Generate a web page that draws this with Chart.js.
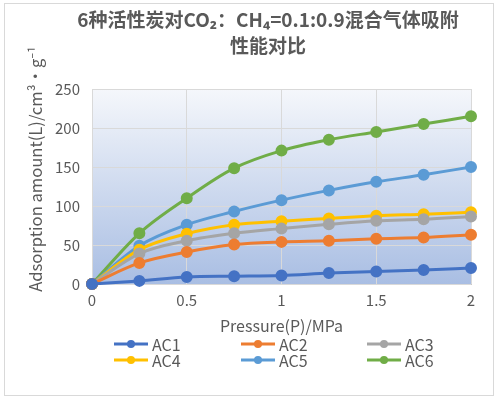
<!DOCTYPE html>
<html>
<head>
<meta charset="utf-8">
<script src="https://cdn.jsdelivr.net/npm/chart.js@4.4.0/dist/chart.umd.min.js"></script>
<style>
  html, body { margin: 0; padding: 0; background: #fff; }
  #wrap { width: 498px; height: 399px; }
</style>
</head>
<body>
<div id="wrap"><canvas id="chart" width="498" height="399"></canvas></div>
<script>
'use strict';

// values
const pressure = [0, 0.25, 0.5, 0.75, 1, 1.25, 1.5, 1.75, 2];
const seriesNames = ['AC1', 'AC2', 'AC3', 'AC4', 'AC5', 'AC6'];
const ac1 = [0, 4, 9, 10, 11, 14, 16, 18, 20.5];
const ac2 = [0, 27, 41, 50.5, 54, 55.5, 58, 59.5, 63];
const ac3 = [0, 39, 55.5, 65, 71, 76.5, 81, 83, 86.5];
const ac4 = [0, 44, 64.5, 76, 80.5, 84, 87.5, 89.5, 92];
const ac5 = [0, 49, 76, 93, 107.5, 120, 131, 140, 150];
const ac6 = [0, 65, 110, 148.5, 171, 185, 195, 205, 215];
const seriesColors = ['#4472C4', '#ED7D31', '#A5A5A5', '#FFC000', '#5B9BD5', '#70AD47'];

const titleLines = ['6种活性炭对CO₂：CH₄=0.1:0.9混合气体吸附', '性能对比'];
const xTitle = 'Pressure(P)/MPa';
const yTitle = 'Adsorption amount(L)/cm³•g⁻¹';

const textColor = '#595959';
const fontFamily = '"Noto Sans CJK SC", "Noto Sans", sans-serif';

const allSeries = [ac1, ac2, ac3, ac4, ac5, ac6];

const datasets = allSeries.map(function (values, i) {
    return {
        label: seriesNames[i],
        data: values.map(function (v, j) {
            return {x: pressure[j], y: v};
        }),
        borderColor: seriesColors[i],
        backgroundColor: seriesColors[i],
        borderWidth: 3,
        pointRadius: 4.5,
        pointHoverRadius: 4.5,
        cubicInterpolationMode: 'monotone',
        clip: false,
        fill: false
    };
});

// frame, plot background, titles and the grid legend
const decorPlugin = {
    id: 'decor',
    beforeDraw: function (chart) {
        const ctx = chart.ctx;
        const a = chart.chartArea;
        ctx.save();
        ctx.strokeStyle = '#d9d9d9';
        ctx.lineWidth = 1;
        ctx.strokeRect(4.5, 3.5, 489, 392);
        let grad = ctx.createLinearGradient(0, a.top, 0, a.bottom);
        grad.addColorStop(0, '#f5f7fb');
        grad.addColorStop(1, '#a9bee3');
        ctx.fillStyle = grad;
        ctx.fillRect(a.left, a.top, a.right - a.left, a.bottom - a.top);
        ctx.strokeStyle = '#c8c8c8';
        ctx.strokeRect(Math.round(a.left) + 0.5, Math.round(a.top) + 0.5,
            Math.round(a.right - a.left), Math.round(a.bottom - a.top));
        ctx.restore();
    },
    afterDraw: function (chart) {
        const ctx = chart.ctx;
        ctx.save();
        ctx.fillStyle = textColor;
        ctx.textAlign = 'center';
        ctx.textBaseline = 'middle';

        // chart title
        ctx.font = 'bold 19px ' + fontFamily;
        ctx.fillText(titleLines[0], 268, 20);
        ctx.fillText(titleLines[1], 268, 46);

        // y axis title
        ctx.font = '16.6px ' + fontFamily;
        ctx.translate(36, 169);
        ctx.rotate(-Math.PI / 2);
        ctx.fillText(yTitle, 0, 0);
        ctx.restore();

        // legend, 3 columns x 2 rows
        const colX = [114, 241, 367];
        const rowY = [344, 360];
        ctx.save();
        ctx.font = '16px ' + fontFamily;
        ctx.textAlign = 'left';
        ctx.textBaseline = 'middle';
        chart.data.datasets.forEach(function (ds, i) {
            let x = colX[i % 3];
            let y = rowY[Math.floor(i / 3)];
            ctx.strokeStyle = ds.borderColor;
            ctx.lineWidth = 3;
            ctx.beginPath();
            ctx.moveTo(x, y);
            ctx.lineTo(x + 34, y);
            ctx.stroke();
            ctx.fillStyle = ds.borderColor;
            ctx.beginPath();
            ctx.arc(x + 17, y, 4, 0, Math.PI * 2);
            ctx.fill();
            ctx.fillStyle = textColor;
            ctx.fillText(ds.label, x + 38, y + 1);
        });
        ctx.restore();
    }
};

new Chart(document.getElementById('chart'), {
    type: 'line',
    data: {datasets: datasets},
    plugins: [decorPlugin],
    options: {
        responsive: false,
        animation: false,
        layout: {padding: {left: 0, right: 27, top: 89, bottom: 0}},
        plugins: {
            legend: {display: false},
            tooltip: {enabled: false},
            title: {display: false}
        },
        scales: {
            x: {
                type: 'linear',
                min: 0,
                max: 2,
                ticks: {
                    stepSize: 0.5,
                    color: textColor,
                    padding: 7,
                    font: {family: fontFamily, size: 15},
                    callback: function (value) {
                        return String(value);
                    }
                },
                grid: {color: '#d9d9d9', drawTicks: false},
                border: {display: false},
                title: {
                    display: true,
                    text: xTitle,
                    color: textColor,
                    font: {family: fontFamily, size: 16, lineHeight: 1.2},
                    padding: {top: 0, bottom: 63}
                },
                afterFit: function (scale) {
                    scale.height = 115;
                }
            },
            y: {
                min: 0,
                max: 250,
                ticks: {
                    stepSize: 50,
                    color: textColor,
                    padding: 12,
                    font: {family: fontFamily, size: 15}
                },
                grid: {color: '#d9d9d9', drawTicks: false},
                border: {display: false},
                afterFit: function (scale) {
                    scale.width = 92;
                }
            }
        }
    }
});
</script>
</body>
</html>
